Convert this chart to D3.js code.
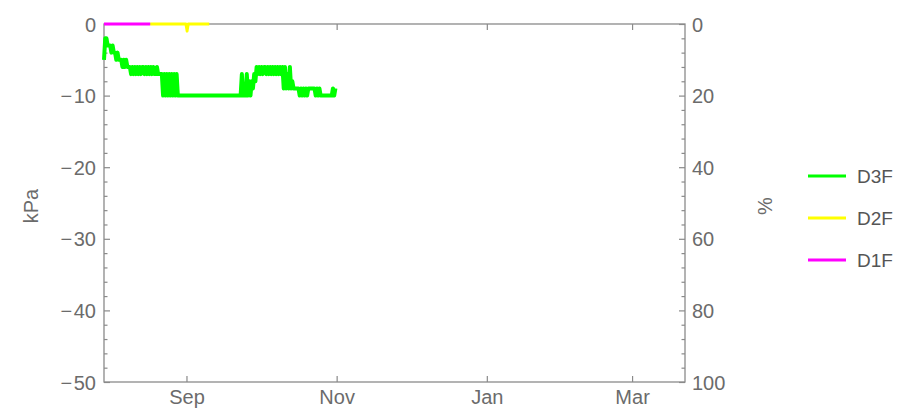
<!DOCTYPE html>
<html>
<head>
<meta charset="utf-8">
<script src="https://cdn.jsdelivr.net/npm/d3@7"></script>
<style>
  html, body { margin: 0; padding: 0; background: #fff; }
  text { font-family: "Liberation Sans", Arial, sans-serif; }
</style>
</head>
<body>
<svg id="chart" width="910" height="419"></svg>
<script>
// ---------- data ----------
const xDomain = ["2018-07-29T12:00", "2019-03-22T12:00"];
const xTickDates = ["2018-09-01T00:00", "2018-11-01T00:00", "2019-01-01T00:00", "2019-03-01T00:00"];
const xTickLabels = ["Sep", "Nov", "Jan", "Mar"];
const leftTicks = [0, -10, -20, -30, -40, -50];
const rightTicks = [0, 20, 40, 60, 80, 100];
const seriesNames = ["D3F", "D2F", "D1F"];
const seriesColors = ["#00ff00", "#ffff00", "#ff00ff"];

// D3F: readings every 12 hours from d3fStart (kPa)
const d3fStart = "2018-07-29T12:00";
const d3fValues = [
  -5,-2,-2,-3,-3, -3,-4,-3,-4,-4, -5,-4,-5,-5,-5, -6,-5,-6,-5,-6,
  -6,-6,-7,-6,-7, -6,-7,-6,-7,-6, -7,-6,-6,-7,-6, -7,-6,-7,-6,-7,
  -6,-7,-7,-6,-7, -7,-7,-7,-10,-7, -10,-7,-10,-7,-10, -7,-10,-7,-10,-7,
  -10,-10,-10,-10,-10,-10,-10,-10,-10,-10, -10,-10,-10,-10,-10,-10,-10,-10,-10,-10,
  -10,-10,-10,-10,-10,-10,-10,-10,-10,-10, -10,-10,-10,-10,-10,-10,-10,-10,-10,-10,
  -10,-10,-10,-10,-10,-10,-10,-10,-10,-10, -10,-10,
  -7, -10,-10,-10,
  -7,-10,-8,-10,-8, -9,-7,-8,-6,-7,
  -6,-7,-6,-7,-6,-6,-7,-6,-7,-6, -7,-6,-7,-6,-7,-6,-7,-6,-7,-6,
  -9,-6,-9,-7,-9,-6,-9,-8,
  -9,-9,-9,-9,-9,
  -10,-9,-10,-9,-10,-9,-10,-9,
  -9,-9,-9,-9,-9,
  -10,-9,-10,-9,
  -10,-10,-10,-10,-10,-10,-10,-10,-10,-10,
  -9,-10,-9
];
const d2fDates = ["2018-08-17T06:00", "2018-08-31T18:00", "2018-09-01T06:00", "2018-09-01T18:00", "2018-09-10T06:00"];
const d2fValues = [0, 0, -1, 0, 0];
const d1fDates = ["2018-07-29T12:00", "2018-08-17T06:00"];
const d1fValues = [0, 0];

// ---------- layout ----------
const L = 104, R = 685, T = 24, B = 382;
const textColor = "#6b6b6b", frameColor = "#8a8a8a";
const parse = d3.isoParse;
const svg = d3.select("#chart");

const x = d3.scaleTime().domain(xDomain.map(parse)).range([L, R]);
const yL = d3.scaleLinear().domain([-50, 0]).range([B, T]);
const yR = d3.scaleLinear().domain([100, 0]).range([B, T]);

const tickDates = xTickDates.map(parse);

// Frame
svg.append("rect").attr("x", L).attr("y", T).attr("width", R - L).attr("height", B - T)
  .attr("fill", "none").attr("stroke", frameColor).attr("stroke-width", 1.3);

// Left axis
const leftAxis = d3.axisLeft(yL).tickValues(leftTicks).tickSize(-6)
  .tickFormat(d => d < 0 ? "\u2212\u200A" + Math.abs(d) : d);
const gl = svg.append("g").attr("transform", `translate(${L},0)`).call(leftAxis);
gl.select(".domain").remove();
gl.selectAll(".tick line").attr("stroke", frameColor).attr("stroke-width", 1.2);
gl.selectAll(".tick text").attr("x", -8).attr("dy", "0.35em").attr("fill", textColor).style("font-size", "20px");
const glm = svg.append("g").attr("transform", `translate(${L},0)`)
  .call(d3.axisLeft(yL).tickValues(d3.range(-50, 1, 2).filter(v => v % 10 !== 0)).tickSize(-3.5).tickFormat(""));
glm.select(".domain").remove();
glm.selectAll(".tick line").attr("stroke", frameColor).attr("stroke-width", 1.2);

// Right axis
const gr = svg.append("g").attr("transform", `translate(${R},0)`)
  .call(d3.axisRight(yR).tickValues(rightTicks).tickSize(-6));
gr.select(".domain").remove();
gr.selectAll(".tick line").attr("stroke", frameColor).attr("stroke-width", 1.2);
gr.selectAll(".tick text").attr("x", 7).attr("dy", "0.35em").attr("fill", textColor).style("font-size", "20px");
const grm = svg.append("g").attr("transform", `translate(${R},0)`)
  .call(d3.axisRight(yR).tickValues(d3.range(0, 101, 4).filter(v => v % 20 !== 0)).tickSize(-3.5).tickFormat(""));
grm.select(".domain").remove();
grm.selectAll(".tick line").attr("stroke", frameColor).attr("stroke-width", 1.2);

// Bottom axis
const gb = svg.append("g").attr("transform", `translate(0,${B})`)
  .call(d3.axisBottom(x).tickValues(tickDates).tickSize(-6).tickFormat((d, i) => xTickLabels[i]));
gb.select(".domain").remove();
gb.selectAll(".tick line").attr("stroke", frameColor).attr("stroke-width", 1.2);
gb.selectAll(".tick text").attr("y", 8).attr("dy", "0.71em").attr("fill", textColor).style("font-size", "20px");

// Top axis
const gt = svg.append("g").attr("transform", `translate(0,${T})`)
  .call(d3.axisTop(x).tickValues(tickDates).tickSize(-6).tickFormat(""));
gt.select(".domain").remove();
gt.selectAll(".tick line").attr("stroke", frameColor).attr("stroke-width", 1.2);

// Axis titles
svg.append("text").attr("transform", "translate(38,206) rotate(-90)")
  .attr("text-anchor", "middle").attr("fill", textColor).style("font-size", "20px").text("kPa");
svg.append("text").attr("transform", "translate(772,206) rotate(-90)")
  .attr("text-anchor", "middle").attr("fill", textColor).style("font-size", "20px").text("%");

// Series
const t0 = parse(d3fStart).getTime();
const d3fData = d3fValues.map((v, i) => ({ t: new Date(t0 + i * 12 * 3600 * 1000), v }));
const d2fData = d2fDates.map((d, i) => ({ t: parse(d), v: d2fValues[i] }));
const d1fData = d1fDates.map((d, i) => ({ t: parse(d), v: d1fValues[i] }));

const line = d3.line().x(d => x(d.t)).y(d => yL(d.v));
const allSeries = [d3fData, d2fData, d1fData];
allSeries.forEach((data, i) => {
  svg.append("path").datum(data).attr("d", line)
    .attr("fill", "none").attr("stroke", seriesColors[i])
    .attr("stroke-width", i === 0 ? 4 : 2.8)
    .attr("stroke-linejoin", "round").attr("stroke-linecap", "butt");
});

// Legend
const legend = svg.append("g");
seriesNames.forEach((name, i) => {
  const yy = 176 + i * 42;
  legend.append("line").attr("x1", 808).attr("x2", 846).attr("y1", yy).attr("y2", yy)
    .attr("stroke", seriesColors[i]).attr("stroke-width", 3);
  legend.append("text").attr("x", 857).attr("y", yy).attr("dy", "0.35em")
    .attr("fill", "#555").style("font-size", "19px").text(name);
});
</script>
</body>
</html>
